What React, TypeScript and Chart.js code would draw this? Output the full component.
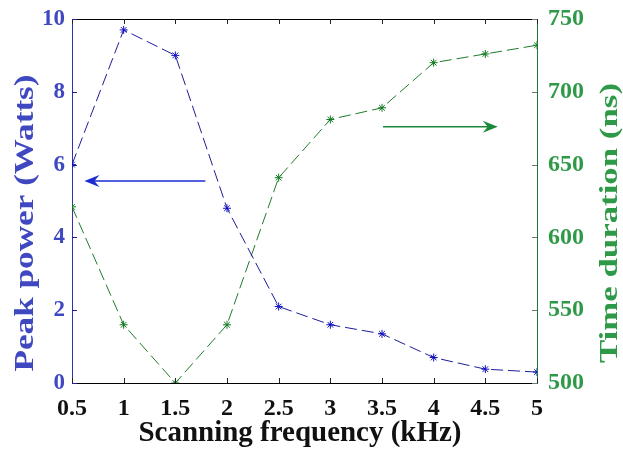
import React, { useEffect, useRef } from "react";
import { Chart, registerables } from "chart.js";

Chart.register(...registerables);

const frequencies = [0.5, 1, 1.5, 2, 2.5, 3, 3.5, 4, 4.5, 5];
const peakPower = [6.0, 9.7, 9.0, 4.8, 2.1, 1.6, 1.35, 0.7, 0.38, 0.3];
const timeDuration = [621, 540, 500, 540, 641, 681, 689, 720, 726, 732];
const xTicks = [0.5, 1, 1.5, 2, 2.5, 3, 3.5, 4, 4.5, 5];
const leftTicks = [0, 2, 4, 6, 8, 10];
const rightTicks = [500, 550, 600, 650, 700, 750];
const xTitle = "Scanning frequency (kHz)";
const leftTitle = "Peak power (Watts)";
const rightTitle = "Time duration (ns)";
// arrows: [xFrom, xTo, yValue]
const blueArrow = [1.79, 0.62, 5.55];
const greenArrow = [3.51, 4.62, 676];

const BLUE_TEXT = "#3f48c0";
const GREEN_TEXT = "#2e9a48";
const BLUE_LINE = "#1c1c9c";
const GREEN_LINE = "#1e7a2a";
const FONT = "'Liberation Serif', 'Times New Roman', serif";

function drawArrow(ctx: CanvasRenderingContext2D, x1: number, x2: number, y: number, color: string) {
  const dir = x2 > x1 ? 1 : -1;
  ctx.save();
  ctx.strokeStyle = color;
  ctx.fillStyle = color;
  ctx.lineWidth = 1.3;
  ctx.beginPath();
  ctx.moveTo(x1, y);
  ctx.lineTo(x2 - dir * 6, y);
  ctx.stroke();
  ctx.beginPath();
  ctx.moveTo(x2, y);
  ctx.lineTo(x2 - dir * 15, y - 6);
  ctx.lineTo(x2 - dir * 10, y);
  ctx.lineTo(x2 - dir * 15, y + 6);
  ctx.closePath();
  ctx.fill();
  ctx.restore();
}

function drawStretchedTitle(
  ctx: CanvasRenderingContext2D,
  text: string,
  cx: number,
  cy: number,
  size: number,
  length: number,
  rotation: number,
  color: string
) {
  ctx.save();
  ctx.font = `bold ${size}px ${FONT}`;
  const w = ctx.measureText(text).width;
  ctx.translate(cx, cy);
  ctx.rotate(rotation);
  ctx.scale(length / w, 1);
  ctx.fillStyle = color;
  ctx.textAlign = "center";
  ctx.textBaseline = "middle";
  ctx.fillText(text, 0, 0);
  ctx.restore();
}

const decorPlugin = {
  id: "decor",
  afterDatasetsDraw(chart: any) {
    const ctx = chart.ctx as CanvasRenderingContext2D;
    const { left, right, top, bottom } = chart.chartArea;
    const xs = chart.scales.x;
    const yl = chart.scales.y;
    const yr = chart.scales.y1;
    ctx.save();
    ctx.lineWidth = 1;
    ctx.strokeStyle = "#000";
    ctx.beginPath();
    ctx.moveTo(left, top + 0.5);
    ctx.lineTo(right, top + 0.5);
    ctx.stroke();
    ctx.strokeStyle = "#222";
    for (const v of xTicks) {
      const px = Math.round(xs.getPixelForValue(v)) + 0.5;
      ctx.beginPath();
      ctx.moveTo(px, bottom);
      ctx.lineTo(px, bottom - 5);
      ctx.moveTo(px, top);
      ctx.lineTo(px, top + 5);
      ctx.stroke();
    }
    ctx.strokeStyle = BLUE_LINE;
    for (const v of leftTicks) {
      const py = Math.round(yl.getPixelForValue(v)) + 0.5;
      ctx.beginPath();
      ctx.moveTo(left, py);
      ctx.lineTo(left + 5, py);
      ctx.stroke();
    }
    ctx.strokeStyle = "#777";
    for (const v of rightTicks) {
      const py = Math.round(yr.getPixelForValue(v)) + 0.5;
      ctx.beginPath();
      ctx.moveTo(right, py);
      ctx.lineTo(right - 5, py);
      ctx.stroke();
    }
    ctx.restore();
    drawArrow(
      ctx,
      xs.getPixelForValue(blueArrow[0]),
      xs.getPixelForValue(blueArrow[1]),
      yl.getPixelForValue(blueArrow[2]),
      "#1a2bd0"
    );
    drawArrow(
      ctx,
      xs.getPixelForValue(greenArrow[0]),
      xs.getPixelForValue(greenArrow[1]),
      yr.getPixelForValue(greenArrow[2]),
      "#1a8a3a"
    );
    drawStretchedTitle(ctx, xTitle, 300, 434, 29, 323, 0, "#111");
    drawStretchedTitle(ctx, leftTitle, 26, 223, 27, 297, -Math.PI / 2, BLUE_TEXT);
    drawStretchedTitle(ctx, rightTitle, 611, 223, 25, 280, -Math.PI / 2, GREEN_TEXT);
  },
};

export default function App() {
  const ref = useRef<HTMLCanvasElement | null>(null);
  useEffect(() => {
    document.body.style.margin = "0";
    const canvas = ref.current!;
    const chart = new Chart(canvas, {
      type: "line",
      data: {
        datasets: [
          {
            label: "Peak power",
            data: frequencies.map((f, i) => ({ x: f, y: peakPower[i] })),
            yAxisID: "y",
            borderColor: BLUE_LINE,
            backgroundColor: BLUE_LINE,
            borderWidth: 1,
            borderDash: [12, 5],
            pointStyle: "star",
            pointRadius: 4,
            pointBorderWidth: 1,
            pointBorderColor: "#1010c0",
            fill: false,
            tension: 0,
          },
          {
            label: "Time duration",
            data: frequencies.map((f, i) => ({ x: f, y: timeDuration[i] })),
            yAxisID: "y1",
            borderColor: GREEN_LINE,
            backgroundColor: GREEN_LINE,
            borderWidth: 1,
            borderDash: [12, 5],
            pointStyle: "star",
            pointRadius: 4,
            pointBorderWidth: 1,
            pointBorderColor: "#0f7a1f",
            fill: false,
            tension: 0,
          },
        ],
      },
      options: {
        animation: false,
        responsive: false,
        layout: { padding: { top: 19, left: 0, right: 0, bottom: 0 } },
        plugins: { legend: { display: false }, tooltip: { enabled: false } },
        scales: {
          x: {
            type: "linear",
            min: 0.5,
            max: 5,
            afterBuildTicks: (s: any) => {
              s.ticks = xTicks.map((v) => ({ value: v }));
            },
            afterFit: (s: any) => {
              s.height = 67;
              s.paddingLeft = 0;
              s.paddingRight = 0;
            },
            grid: { display: false, drawTicks: false },
            border: { display: true, color: "#000", width: 1 },
            ticks: {
              color: "#111",
              padding: 11,
              autoSkip: false,
              maxRotation: 0,
              font: { family: FONT, size: 24, weight: "bold" },
              callback: (v: any) => String(v),
            },
            title: { display: false },
          },
          y: {
            type: "linear",
            position: "left",
            min: 0,
            max: 10,
            afterBuildTicks: (s: any) => {
              s.ticks = leftTicks.map((v) => ({ value: v }));
            },
            afterFit: (s: any) => {
              s.width = 72;
              s.paddingTop = 0;
              s.paddingBottom = 0;
            },
            grid: { display: false, drawTicks: false },
            border: { display: true, color: "#3030b0", width: 1 },
            ticks: {
              color: BLUE_TEXT,
              padding: 7,
              font: { family: FONT, size: 23, weight: "bold" },
            },
            title: { display: false },
          },
          y1: {
            type: "linear",
            position: "right",
            min: 500,
            max: 750,
            afterBuildTicks: (s: any) => {
              s.ticks = rightTicks.map((v) => ({ value: v }));
            },
            afterFit: (s: any) => {
              s.width = 86;
              s.paddingTop = 0;
              s.paddingBottom = 0;
            },
            grid: { display: false, drawTicks: false },
            border: { display: true, color: "#1e7a2a", width: 1 },
            ticks: {
              color: GREEN_TEXT,
              padding: 11,
              font: { family: FONT, size: 24, weight: "bold" },
            },
            title: { display: false },
          },
        },
      } as any,
      plugins: [decorPlugin],
    });
    return () => chart.destroy();
  }, []);
  return (
    <div style={{ position: "relative", width: 623, height: 450, background: "#fff" }}>
      <canvas ref={ref} width={623} height={450} style={{ display: "block" }} />
    </div>
  );
}
